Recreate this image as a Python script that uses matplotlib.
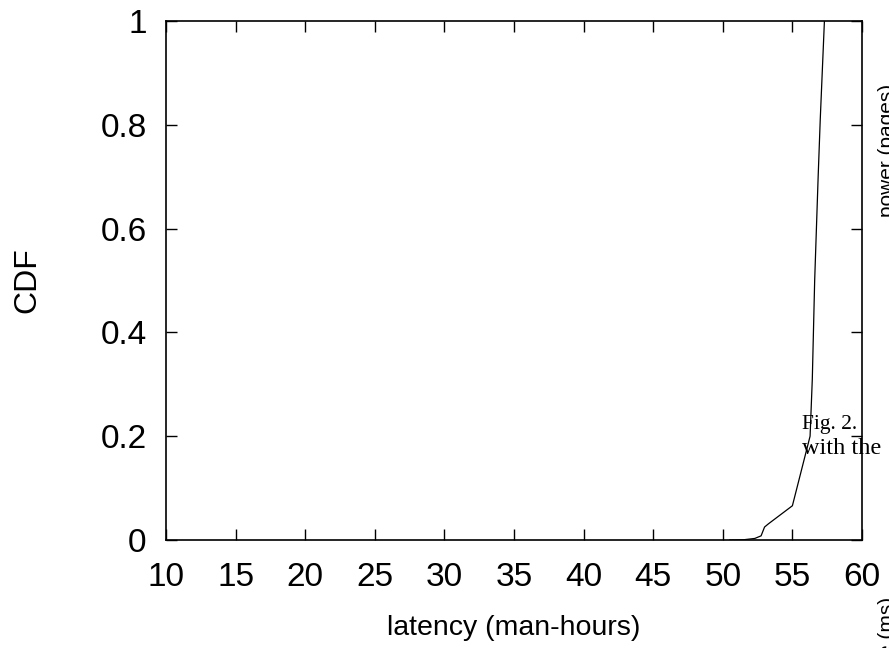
import matplotlib
matplotlib.use("Agg")
import matplotlib.pyplot as plt

latency = [50.5, 51.5, 52.3, 52.75, 53.0, 53.27, 55.0, 56.27, 56.43, 56.6, 56.85, 57.0, 57.3]
cdf = [0.0, 0.0005, 0.003, 0.008, 0.025, 0.031, 0.066, 0.2, 0.31, 0.5, 0.7, 0.81, 1.0]
xticks = [10, 15, 20, 25, 30, 35, 40, 45, 50, 55, 60]
yticks = [0, 0.2, 0.4, 0.6, 0.8, 1]
ytick_labels = ["0", "0.2", "0.4", "0.6", "0.8", "1"]

plt.rcParams['font.family'] = ['Liberation Sans', 'DejaVu Sans']

fig = plt.figure(figsize=(8.89, 6.48), dpi=100)
ax = fig.add_axes([166/889, 108/648, (862-166)/889, (540-21)/648])
ax.plot(latency, cdf, color='black', lw=0.9)
ax.set_xlim(10, 60)
ax.set_ylim(0, 1)
ax.set_xticks(xticks)
ax.set_yticks(yticks)
ax.set_yticklabels(ytick_labels)
ax.tick_params(direction='in', length=8, width=1, top=True, right=True,
               labelsize=24)
ax.tick_params(axis='x', pad=16)
ax.tick_params(axis='y', pad=14)
for s in ax.spines.values():
    s.set_linewidth(1.2)
ax.set_xlabel("latency (man-hours)", fontsize=20.5, labelpad=16)
ax.set_ylabel("CDF", fontsize=23, labelpad=42)

# stray overlapping text from the surrounding page
fig.text(802/889, 1 - 424/648, "Fig. 2.", family='Liberation Serif', fontsize=15.5,
         va='center', ha='left')
fig.text(802/889, 1 - 449/648, "with the", family='Liberation Serif', fontsize=17.5,
         va='center', ha='left')
fig.text(878/889, 1 - 150/648, "power (pages)", fontsize=15, rotation=90,
         va='center', ha='left')
fig.text(878/889, 1 - 597/648, "time (ms)", fontsize=15, rotation=90,
         va='top', ha='left')

fig.savefig("out.png", dpi=100)
